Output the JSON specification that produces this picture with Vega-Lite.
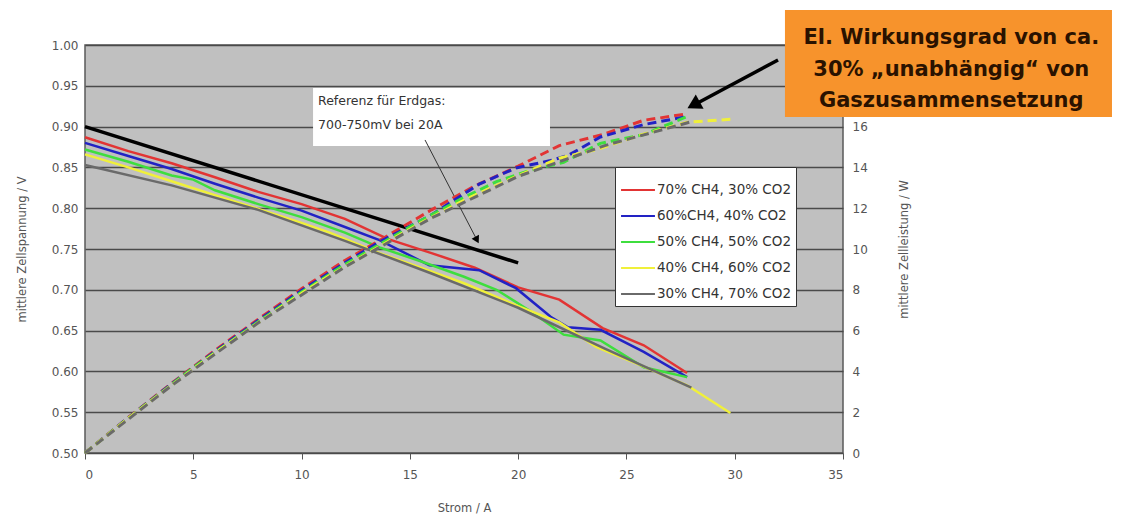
{
  "$schema": "https://vega.github.io/schema/vega-lite/v6.json",
  "width": 758,
  "height": 408,
  "autosize": {"type": "none"},
  "padding": {"left": 85, "top": 45, "right": 280, "bottom": 70},
  "background": "white",
  "config": {
    "font": "DejaVu Sans",
    "view": {"fill": "#c0c0c0", "stroke": "#5a5a5a", "strokeWidth": 1.5},
    "axis": {"labelFont": "DejaVu Sans", "titleFont": "DejaVu Sans", "labelColor": "#555", "titleColor": "#555", "labelFontSize": 12, "titleFontSize": 11.5, "titleFontWeight": "normal", "domain": false}
  },
  "datasets": {
    "curves": [
      {"Serie": "70% CH4, 30% CO2", "I": 0, "V": 0.887, "P": 0},
      {"Serie": "70% CH4, 30% CO2", "I": 2, "V": 0.870, "P": 1.74},
      {"Serie": "70% CH4, 30% CO2", "I": 4, "V": 0.855, "P": 3.42},
      {"Serie": "70% CH4, 30% CO2", "I": 6, "V": 0.838, "P": 5.03},
      {"Serie": "70% CH4, 30% CO2", "I": 8, "V": 0.820, "P": 6.56},
      {"Serie": "70% CH4, 30% CO2", "I": 10, "V": 0.805, "P": 8.05},
      {"Serie": "70% CH4, 30% CO2", "I": 12, "V": 0.787, "P": 9.44},
      {"Serie": "70% CH4, 30% CO2", "I": 14, "V": 0.762, "P": 10.67},
      {"Serie": "70% CH4, 30% CO2", "I": 16, "V": 0.745, "P": 11.92},
      {"Serie": "70% CH4, 30% CO2", "I": 18, "V": 0.727, "P": 13.09},
      {"Serie": "70% CH4, 30% CO2", "I": 20, "V": 0.703, "P": 14.06},
      {"Serie": "70% CH4, 30% CO2", "I": 21.9, "V": 0.688, "P": 15.07},
      {"Serie": "70% CH4, 30% CO2", "I": 23.9, "V": 0.653, "P": 15.61},
      {"Serie": "70% CH4, 30% CO2", "I": 25.8, "V": 0.632, "P": 16.31},
      {"Serie": "70% CH4, 30% CO2", "I": 27.8, "V": 0.598, "P": 16.62},
      {"Serie": "60%CH4, 40% CO2", "I": 0, "V": 0.880, "P": 0},
      {"Serie": "60%CH4, 40% CO2", "I": 2, "V": 0.864, "P": 1.73},
      {"Serie": "60%CH4, 40% CO2", "I": 4, "V": 0.848, "P": 3.39},
      {"Serie": "60%CH4, 40% CO2", "I": 6, "V": 0.830, "P": 4.98},
      {"Serie": "60%CH4, 40% CO2", "I": 8, "V": 0.813, "P": 6.50},
      {"Serie": "60%CH4, 40% CO2", "I": 10, "V": 0.797, "P": 7.97},
      {"Serie": "60%CH4, 40% CO2", "I": 12, "V": 0.777, "P": 9.32},
      {"Serie": "60%CH4, 40% CO2", "I": 13.6, "V": 0.761, "P": 10.35},
      {"Serie": "60%CH4, 40% CO2", "I": 15.9, "V": 0.730, "P": 11.61},
      {"Serie": "60%CH4, 40% CO2", "I": 18.2, "V": 0.724, "P": 13.18},
      {"Serie": "60%CH4, 40% CO2", "I": 19.9, "V": 0.702, "P": 13.97},
      {"Serie": "60%CH4, 40% CO2", "I": 21.5, "V": 0.667, "P": 14.34},
      {"Serie": "60%CH4, 40% CO2", "I": 22.3, "V": 0.654, "P": 14.58},
      {"Serie": "60%CH4, 40% CO2", "I": 23.8, "V": 0.651, "P": 15.49},
      {"Serie": "60%CH4, 40% CO2", "I": 25.8, "V": 0.624, "P": 16.10},
      {"Serie": "60%CH4, 40% CO2", "I": 27.8, "V": 0.593, "P": 16.49},
      {"Serie": "50% CH4, 50% CO2", "I": 0, "V": 0.872, "P": 0},
      {"Serie": "50% CH4, 50% CO2", "I": 2, "V": 0.857, "P": 1.71},
      {"Serie": "50% CH4, 50% CO2", "I": 4, "V": 0.840, "P": 3.36},
      {"Serie": "50% CH4, 50% CO2", "I": 5, "V": 0.835, "P": 4.18},
      {"Serie": "50% CH4, 50% CO2", "I": 6, "V": 0.822, "P": 4.93},
      {"Serie": "50% CH4, 50% CO2", "I": 8, "V": 0.805, "P": 6.44},
      {"Serie": "50% CH4, 50% CO2", "I": 10, "V": 0.789, "P": 7.89},
      {"Serie": "50% CH4, 50% CO2", "I": 12, "V": 0.770, "P": 9.24},
      {"Serie": "50% CH4, 50% CO2", "I": 13.6, "V": 0.752, "P": 10.23},
      {"Serie": "50% CH4, 50% CO2", "I": 15.5, "V": 0.735, "P": 11.39},
      {"Serie": "50% CH4, 50% CO2", "I": 17.5, "V": 0.716, "P": 12.53},
      {"Serie": "50% CH4, 50% CO2", "I": 19, "V": 0.700, "P": 13.30},
      {"Serie": "50% CH4, 50% CO2", "I": 20.5, "V": 0.675, "P": 13.84},
      {"Serie": "50% CH4, 50% CO2", "I": 22.1, "V": 0.645, "P": 14.25},
      {"Serie": "50% CH4, 50% CO2", "I": 23.8, "V": 0.638, "P": 15.18},
      {"Serie": "50% CH4, 50% CO2", "I": 25.8, "V": 0.605, "P": 15.61},
      {"Serie": "50% CH4, 50% CO2", "I": 27.8, "V": 0.593, "P": 16.49},
      {"Serie": "40% CH4, 60% CO2", "I": 0, "V": 0.866, "P": 0},
      {"Serie": "40% CH4, 60% CO2", "I": 2, "V": 0.850, "P": 1.70},
      {"Serie": "40% CH4, 60% CO2", "I": 4, "V": 0.833, "P": 3.33},
      {"Serie": "40% CH4, 60% CO2", "I": 6, "V": 0.816, "P": 4.90},
      {"Serie": "40% CH4, 60% CO2", "I": 8, "V": 0.799, "P": 6.39},
      {"Serie": "40% CH4, 60% CO2", "I": 10, "V": 0.782, "P": 7.82},
      {"Serie": "40% CH4, 60% CO2", "I": 11.3, "V": 0.770, "P": 8.70},
      {"Serie": "40% CH4, 60% CO2", "I": 13.6, "V": 0.745, "P": 10.13},
      {"Serie": "40% CH4, 60% CO2", "I": 15.5, "V": 0.727, "P": 11.27},
      {"Serie": "40% CH4, 60% CO2", "I": 17.5, "V": 0.708, "P": 12.39},
      {"Serie": "40% CH4, 60% CO2", "I": 20, "V": 0.680, "P": 13.60},
      {"Serie": "40% CH4, 60% CO2", "I": 21.9, "V": 0.660, "P": 14.45},
      {"Serie": "40% CH4, 60% CO2", "I": 23.6, "V": 0.630, "P": 14.87},
      {"Serie": "40% CH4, 60% CO2", "I": 25.7, "V": 0.607, "P": 15.60},
      {"Serie": "40% CH4, 60% CO2", "I": 27.8, "V": 0.583, "P": 16.21},
      {"Serie": "40% CH4, 60% CO2", "I": 29.8, "V": 0.549, "P": 16.36},
      {"Serie": "30% CH4, 70% CO2", "I": 0, "V": 0.853, "P": 0},
      {"Serie": "30% CH4, 70% CO2", "I": 4, "V": 0.828, "P": 3.31},
      {"Serie": "30% CH4, 70% CO2", "I": 8, "V": 0.798, "P": 6.38},
      {"Serie": "30% CH4, 70% CO2", "I": 12, "V": 0.760, "P": 9.12},
      {"Serie": "30% CH4, 70% CO2", "I": 16, "V": 0.720, "P": 11.52},
      {"Serie": "30% CH4, 70% CO2", "I": 20, "V": 0.678, "P": 13.56},
      {"Serie": "30% CH4, 70% CO2", "I": 24, "V": 0.628, "P": 15.07},
      {"Serie": "30% CH4, 70% CO2", "I": 28, "V": 0.580, "P": 16.24}
    ]
  },
  "layer": [
    {
      "layer": [
        {
          "data": {"values": [{"x1": 10.53, "x2": 21.47, "y1": 0.9473, "y2": 0.8762}]},
          "mark": {"type": "rect", "fill": "white"},
          "encoding": {
            "x": {"field": "x1", "type": "quantitative", "scale": {"domain": [0, 35], "nice": false}},
            "x2": {"field": "x2"},
            "y": {"field": "y1", "type": "quantitative", "scale": {"domain": [0.5, 1.0], "nice": false, "zero": false}},
            "y2": {"field": "y2"}
          }
        },
        {
          "data": {"name": "curves"},
          "mark": {"type": "line", "strokeWidth": 2.5},
          "encoding": {
            "x": {"field": "I", "type": "quantitative", "scale": {"domain": [0, 35], "nice": false},
              "axis": {"title": "Strom / A", "values": [0, 5, 10, 15, 20, 25, 30, 35], "grid": false, "ticks": true, "tickSize": 6, "tickColor": "#555", "labelPadding": 10, "titlePadding": 22}},
            "y": {"field": "V", "type": "quantitative", "scale": {"domain": [0.5, 1.0], "nice": false, "zero": false},
              "axis": {"title": "mittlere Zellspannung / V", "values": [0.5, 0.55, 0.6, 0.65, 0.7, 0.75, 0.8, 0.85, 0.9, 0.95, 1.0], "format": ".2f", "grid": true, "gridColor": "#4a4a4a", "gridWidth": 1.6, "ticks": false, "labelPadding": 7, "titlePadding": 24}},
            "color": {"field": "Serie", "type": "nominal",
              "scale": {"domain": ["70% CH4, 30% CO2", "60%CH4, 40% CO2", "50% CH4, 50% CO2", "40% CH4, 60% CO2", "30% CH4, 70% CO2"], "range": ["#e23434", "#2222c4", "#3ede3e", "#f0f03a", "#6a6a6a"]},
              "legend": {"orient": "none", "legendX": 530, "legendY": 122, "title": null, "fillColor": "white", "strokeColor": "#333", "padding": 5, "symbolType": "stroke", "symbolStrokeWidth": 2, "symbolSize": 1150, "symbolDash": [1, 0], "labelFontSize": 13.5, "labelFont": "DejaVu Sans", "labelColor": "#333", "rowPadding": 1, "labelOffset": 1, "symbolOffset": 0, "offset": 0}},
            "detail": {"field": "Serie"}
          }
        },
        {
          "data": {"values": [{"I": 0, "V": 0.9}, {"I": 20, "V": 0.733}]},
          "mark": {"type": "line", "color": "black", "strokeWidth": 3.5},
          "encoding": {
            "x": {"field": "I", "type": "quantitative", "scale": {"domain": [0, 35], "nice": false}},
            "y": {"field": "V", "type": "quantitative", "scale": {"domain": [0.5, 1.0], "nice": false, "zero": false}}
          }
        },
        {
          "data": {"values": [{"x1": 15.7, "y1": 0.8836, "x2": 18.1, "y2": 0.761}]},
          "mark": {"type": "rule", "color": "#333", "strokeWidth": 1},
          "encoding": {
            "x": {"field": "x1", "type": "quantitative", "scale": {"domain": [0, 35], "nice": false}},
            "y": {"field": "y1", "type": "quantitative", "scale": {"domain": [0.5, 1.0], "nice": false, "zero": false}},
            "x2": {"field": "x2"},
            "y2": {"field": "y2"}
          }
        },
        {
          "data": {"values": [{"x": 18.1, "y": 0.761}]},
          "mark": {"type": "point", "shape": "triangle-up", "filled": true, "color": "black", "size": 70, "angle": 152, "opacity": 1},
          "encoding": {
            "x": {"field": "x", "type": "quantitative", "scale": {"domain": [0, 35], "nice": false}},
            "y": {"field": "y", "type": "quantitative", "scale": {"domain": [0.5, 1.0], "nice": false, "zero": false}}
          }
        },
        {
          "data": {"values": [{"x1": 32.0, "y1": 0.9816, "x2": 28.2, "y2": 0.9277}]},
          "mark": {"type": "rule", "color": "black", "strokeWidth": 3.5},
          "encoding": {
            "x": {"field": "x1", "type": "quantitative", "scale": {"domain": [0, 35], "nice": false}},
            "y": {"field": "y1", "type": "quantitative", "scale": {"domain": [0.5, 1.0], "nice": false, "zero": false}},
            "x2": {"field": "x2"},
            "y2": {"field": "y2"}
          }
        },
        {
          "data": {"values": [{"x": 28.1, "y": 0.9265}]},
          "mark": {"type": "point", "shape": "triangle-up", "filled": true, "color": "black", "size": 260, "angle": 241, "opacity": 1},
          "encoding": {
            "x": {"field": "x", "type": "quantitative", "scale": {"domain": [0, 35], "nice": false}},
            "y": {"field": "y", "type": "quantitative", "scale": {"domain": [0.5, 1.0], "nice": false, "zero": false}}
          }
        },
        {
          "data": {"values": [{"x": 10.76, "y": 0.9314, "t": "Referenz für Erdgas:"}, {"x": 10.76, "y": 0.902, "t": "700-750mV bei 20A"}]},
          "mark": {"type": "text", "align": "left", "baseline": "middle", "font": "DejaVu Sans", "fontSize": 12.5, "color": "#333"},
          "encoding": {
            "x": {"field": "x", "type": "quantitative", "scale": {"domain": [0, 35], "nice": false}},
            "y": {"field": "y", "type": "quantitative", "scale": {"domain": [0.5, 1.0], "nice": false, "zero": false}},
            "text": {"field": "t"}
          }
        },
        {
          "data": {"values": [{"x1": 32.32, "x2": 47.42, "y1": 1.0429, "y2": 0.9118}]},
          "mark": {"type": "rect", "fill": "#f7932c"},
          "encoding": {
            "x": {"field": "x1", "type": "quantitative", "scale": {"domain": [0, 35], "nice": false}},
            "x2": {"field": "x2"},
            "y": {"field": "y1", "type": "quantitative", "scale": {"domain": [0.5, 1.0], "nice": false, "zero": false}},
            "y2": {"field": "y2"}
          }
        },
        {
          "data": {"values": [{"x": 40.0, "y": 1.0086, "t": "El. Wirkungsgrad von ca."}, {"x": 40.0, "y": 0.9694, "t": "30% „unabhängig“ von"}, {"x": 40.0, "y": 0.9314, "t": "Gaszusammensetzung"}]},
          "mark": {"type": "text", "align": "center", "baseline": "middle", "font": "DejaVu Sans", "fontWeight": "bold", "fontSize": 21, "color": "#2a1200"},
          "encoding": {
            "x": {"field": "x", "type": "quantitative", "scale": {"domain": [0, 35], "nice": false}},
            "y": {"field": "y", "type": "quantitative", "scale": {"domain": [0.5, 1.0], "nice": false, "zero": false}},
            "text": {"field": "t"}
          }
        }
      ]
    },
    {
      "data": {"name": "curves"},
      "mark": {"type": "line", "strokeWidth": 3, "strokeDash": [9, 5]},
      "encoding": {
        "x": {"field": "I", "type": "quantitative", "scale": {"domain": [0, 35], "nice": false}},
        "y": {"field": "P", "type": "quantitative", "scale": {"domain": [0, 20], "nice": false},
          "axis": {"orient": "right", "title": "mittlere Zellleistung / W", "values": [0, 2, 4, 6, 8, 10, 12, 14, 16], "format": "d", "grid": false, "ticks": false, "labelPadding": 9, "titleAngle": 270, "titlePadding": 42}},
        "color": {"field": "Serie", "type": "nominal", "legend": null},
        "detail": {"field": "Serie"}
      }
    }
  ],
  "resolve": {"scale": {"y": "independent"}}
}
